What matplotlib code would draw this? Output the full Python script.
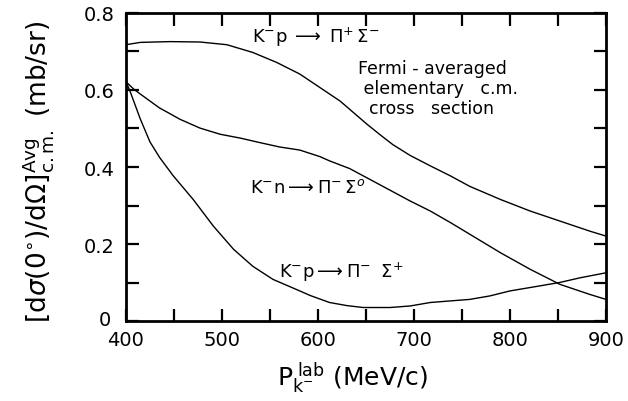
import numpy as np
import matplotlib
matplotlib.use('Agg')
import matplotlib.pyplot as plt
from matplotlib.ticker import MultipleLocator
from matplotlib.transforms import ScaledTranslation

# Fermi-averaged elementary c.m. cross sections at 0 deg vs kaon lab momentum

# K- p -> pi+ Sigma-
p_pip_sm = [400, 415, 446, 477, 505, 532, 557, 581, 602, 623, 637, 651, 665, 678, 696, 717, 738, 758, 790, 821, 852, 883, 900]
s_pip_sm = [0.717, 0.723, 0.725, 0.724, 0.717, 0.697, 0.671, 0.641, 0.606, 0.571, 0.541, 0.511, 0.483, 0.458, 0.430, 0.403, 0.377, 0.350, 0.316, 0.286, 0.260, 0.234, 0.221]

# K- n -> pi- Sigma0
p_pim_s0 = [400, 408, 415, 425, 435, 446, 456, 477, 498, 519, 540, 560, 581, 602, 612, 633, 654, 675, 696, 717, 738, 758, 790, 821, 852, 883, 900]
s_pim_s0 = [0.621, 0.602, 0.589, 0.571, 0.553, 0.538, 0.524, 0.501, 0.485, 0.475, 0.463, 0.452, 0.444, 0.427, 0.416, 0.396, 0.368, 0.340, 0.312, 0.286, 0.256, 0.226, 0.178, 0.135, 0.096, 0.070, 0.057]

# K- p -> pi- Sigma+
p_pim_sp = [400, 404, 415, 425, 435, 449, 470, 491, 512, 532, 553, 581, 592, 612, 630, 647, 675, 696, 717, 758, 779, 800, 831, 852, 873, 900]
s_pim_sp = [0.621, 0.598, 0.524, 0.465, 0.425, 0.378, 0.316, 0.247, 0.187, 0.143, 0.109, 0.079, 0.067, 0.049, 0.041, 0.036, 0.036, 0.040, 0.049, 0.057, 0.066, 0.079, 0.092, 0.101, 0.113, 0.126]

xticks = [400, 500, 600, 700, 800, 900]
xticklabels = ['400', '500', '600', '700', '800', '900']
yticks = [0, 0.2, 0.4, 0.6, 0.8]
yticklabels = ['0', '0.2', '0.4', '0.6', '0.8']

plt.rcParams['font.family'] = 'DejaVu Sans'
plt.rcParams['mathtext.fontset'] = 'dejavusans'

fig = plt.figure(figsize=(6.28, 4.02), dpi=100)
ax = fig.add_axes([0.2006, 0.198, 0.7644, 0.768])

ax.plot(p_pip_sm, s_pip_sm, color='black', lw=1.0)
ax.plot(p_pim_s0, s_pim_s0, color='black', lw=1.0)
ax.plot(p_pim_sp, s_pim_sp, color='black', lw=1.0)

ax.set_xlim(400, 900)
ax.set_ylim(0, 0.8)
ax.set_xticks(xticks)
ax.set_xticklabels(xticklabels)
ax.set_yticks(yticks)
ax.set_yticklabels(yticklabels)
ax.xaxis.set_minor_locator(MultipleLocator(50))
ax.yaxis.set_minor_locator(MultipleLocator(0.1))
ax.tick_params(which='both', direction='in', top=True, right=True,
               length=9, width=1.6, labelsize=14)
ax.tick_params(axis='x', pad=6)
ax.tick_params(axis='y', pad=8)
for sp in ax.spines.values():
    sp.set_linewidth(2.0)

# nudge the "0" label so it clears the "400" below it
zero = ax.get_yticklabels()[0]
zero.set_transform(zero.get_transform() + ScaledTranslation(-3 / 72, 3 / 72, fig.dpi_scale_trans))

# reaction labels
fig.text(252 / 628, 1 - 37 / 402, r'$\mathrm{K^{-}p}\;\longrightarrow\;\Pi^{+}\,\Sigma^{-}$',
         fontsize=13, va='center', ha='left')
fig.text(250 / 628, 1 - 188 / 402, r'$\mathrm{K^{-}n}\longrightarrow\Pi^{-}\,\Sigma^{o}$',
         fontsize=13, va='center', ha='left')
fig.text(279 / 628, 1 - 272 / 402, r'$\mathrm{K^{-}p}\longrightarrow\Pi^{-}\;\;\Sigma^{+}$',
         fontsize=13, va='center', ha='left')

fig.text(358 / 628, 1 - 60 / 402, 'Fermi - averaged\n elementary   c.m.\n  cross   section',
         fontsize=12.5, va='top', ha='left', linespacing=1.15)

# axis titles
fig.text(352 / 628, 1 - 378 / 402, r'$\mathrm{P_{k^{-}}^{\;lab}}$ (MeV/c)',
         fontsize=18, ha='center', va='center')
fig.text(38 / 628, 1 - 172 / 402,
         r'$\left[\mathrm{d}\sigma(0^{\circ})/\mathrm{d}\Omega\right]^{\mathrm{Avg}}_{\mathrm{c.m.}}$ (mb/sr)',
         fontsize=19, rotation=90, ha='center', va='center')

fig.savefig('out.png', dpi=100)
